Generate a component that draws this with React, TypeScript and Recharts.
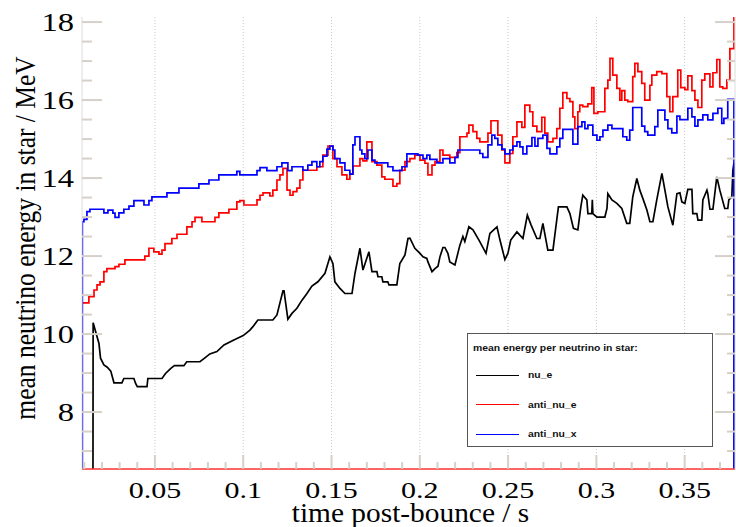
import React from "react"
import { LineChart, Line, XAxis, YAxis, CartesianGrid, Legend, Label } from "recharts"

// time post-bounce (s) / mean energy (MeV)
const nuETime = [
  0.0149, 0.015, 0.0183, 0.0192, 0.0211, 0.023, 0.025, 0.0268, 0.0313, 0.0324,
  0.0381, 0.039, 0.04, 0.0455, 0.046, 0.054, 0.056, 0.059, 0.061, 0.0664,
  0.068, 0.0755, 0.0783, 0.0811, 0.0851, 0.0891, 0.0947, 0.1, 0.1038, 0.1055,
  0.1083, 0.1168, 0.1191, 0.1225, 0.1231, 0.1253, 0.1276, 0.1304, 0.1333, 0.1361,
  0.1389, 0.1423, 0.1463, 0.1491, 0.1508, 0.1519, 0.1548, 0.1576, 0.1616, 0.1633,
  0.1661, 0.1678, 0.1712, 0.1729, 0.1757, 0.1763, 0.1785, 0.1791, 0.1819, 0.1825,
  0.187, 0.1887, 0.1916, 0.1933, 0.1944, 0.1972, 0.2001, 0.2018, 0.204, 0.2046,
  0.2069, 0.2086, 0.2103, 0.2114, 0.2131, 0.2142, 0.2159, 0.217, 0.2199, 0.2227,
  0.2244, 0.2255, 0.2278, 0.2301, 0.2335, 0.2375, 0.2397, 0.2437, 0.2454, 0.2482,
  0.2499, 0.2515, 0.255, 0.2584, 0.2609, 0.263, 0.2663, 0.268, 0.2697, 0.2725,
  0.2754, 0.276, 0.2785, 0.2833, 0.285, 0.287, 0.2895, 0.2912, 0.2923, 0.2946,
  0.2952, 0.2974, 0.2977, 0.298, 0.3003, 0.3048, 0.306, 0.3065, 0.3088, 0.3116,
  0.3144, 0.3172, 0.3189, 0.3206, 0.3229, 0.3246, 0.3263, 0.3286, 0.3303, 0.332,
  0.3342, 0.3371, 0.3405, 0.3433, 0.3456, 0.3473, 0.3484, 0.3501, 0.3518, 0.3541,
  0.3546, 0.3569, 0.3575, 0.3597, 0.3603, 0.3626, 0.3631, 0.3643, 0.366, 0.3682,
  0.3699, 0.3727, 0.3744, 0.375, 0.3767, 0.3773, 0.3779, 0.3782,
]
const nuEValue = [
  6, 10.29, 9.76, 9.38, 9.21, 9.15, 9.05, 8.75, 8.75, 8.86,
  8.86, 8.74, 8.65, 8.65, 8.86, 8.86, 8.99, 9.12, 9.19, 9.19,
  9.29, 9.29, 9.39, 9.49, 9.55, 9.72, 9.85, 9.96, 10.1, 10.19,
  10.36, 10.36, 10.49, 11.11, 11.11, 10.38, 10.53, 10.66, 10.87, 11.04,
  11.23, 11.34, 11.56, 11.98, 11.81, 11.34, 11.17, 11.04, 11.04, 11.56,
  12.2, 11.64, 12.11, 11.6, 11.6, 11.47, 11.47, 11.34, 11.34, 11.26,
  11.26, 11.81, 12.03, 12.45, 12.46, 12.2, 12.07, 11.98, 11.94, 11.85,
  11.6, 11.68, 11.74, 11.98, 12.22, 12.22, 12.07, 11.85, 11.77, 12.28,
  12.5, 12.37, 12.75, 12.67, 12.41, 12.07, 12.58, 12.75, 12.41, 11.91,
  12.07, 12.41, 12.62, 12.45, 13.05, 12.8, 12.45, 12.45, 12.84, 12.15,
  12.15, 12.37, 13.26, 13.26, 13.09, 12.71, 12.67, 13.26, 13.56, 13.44,
  13.09, 13.09, 13.44, 13.09, 13.0, 13.0, 13.22, 13.6, 13.44, 13.35,
  13.22, 12.84, 12.84, 13.52, 13.99, 13.69, 13.48, 13.18, 12.88, 12.88,
  13.44, 14.12, 13.26, 12.79, 13.6, 13.62, 13.39, 13.35, 13.71, 13.71,
  13.09, 13.09, 12.92, 12.92, 13.44, 13.69, 13.6, 13.2, 13.2, 14.03,
  13.69, 13.22, 13.22, 13.44, 13.52, 14.2, 14.38, 6,
]

const antiNuETime = [
  0.0087, 0.0126, 0.0155, 0.0172, 0.0189, 0.0211, 0.0228, 0.0274, 0.0296, 0.033,
  0.0443, 0.0466, 0.0494, 0.0523, 0.054, 0.0557, 0.0596, 0.0625, 0.0681, 0.071,
  0.0727, 0.0766, 0.084, 0.0862, 0.0919, 0.0964, 0.0981, 0.1004, 0.1078, 0.1095,
  0.1112, 0.1151, 0.1168, 0.1191, 0.1208, 0.1225, 0.1248, 0.1265, 0.1282, 0.1304,
  0.1321, 0.1338, 0.1417, 0.1451, 0.148, 0.1508, 0.1531, 0.1559, 0.1587, 0.1604,
  0.1621, 0.1661, 0.1678, 0.17, 0.1729, 0.1757, 0.1785, 0.1802, 0.1848, 0.187,
  0.1887, 0.1916, 0.1944, 0.1972, 0.2001, 0.2029, 0.2046, 0.2069, 0.2086, 0.2114,
  0.2131, 0.217, 0.221, 0.2227, 0.2267, 0.2278, 0.2301, 0.2323, 0.234, 0.2386,
  0.2403, 0.2442, 0.2465, 0.2482, 0.251, 0.2527, 0.255, 0.2578, 0.2595, 0.2623,
  0.264, 0.2663, 0.2691, 0.2708, 0.2725, 0.2754, 0.2776, 0.2793, 0.281, 0.2833,
  0.285, 0.2867, 0.2878, 0.2895, 0.2906, 0.2923, 0.2952, 0.2974, 0.2986, 0.3008,
  0.3048, 0.3065, 0.3077, 0.3093, 0.3116, 0.3133, 0.3144, 0.3161, 0.3178, 0.3206,
  0.3218, 0.3235, 0.3257, 0.3274, 0.3303, 0.3314, 0.3342, 0.3371, 0.3399, 0.3416,
  0.3433, 0.3461, 0.3478, 0.3501, 0.3518, 0.3541, 0.3558, 0.3575, 0.3597, 0.3614,
  0.3643, 0.366, 0.3682, 0.3699, 0.3716, 0.3739, 0.3756, 0.3779, 0.3785,
]
const antiNuEValue = [
  10.8, 10.96, 11.13, 11.26, 11.34, 11.6, 11.68, 11.73, 11.79, 11.9,
  12.0, 12.2, 12.11, 12.05, 12.15, 12.32, 12.45, 12.56, 12.75, 12.88,
  12.99, 12.88, 12.99, 13.11, 13.2, 13.39, 13.42, 13.31, 13.44, 13.56,
  13.62, 13.54, 13.69, 13.95, 14.08, 14.25, 13.69, 13.56, 13.65, 13.74,
  13.95, 14.2, 14.29, 14.59, 14.82, 14.5, 14.29, 14.08, 13.97, 14.1,
  14.31, 14.5, 14.44, 14.93, 14.42, 14.33, 14.03, 13.97, 13.79, 13.86,
  14.2, 14.42, 14.5, 14.59, 14.46, 14.38, 14.08, 14.33, 14.42, 14.72,
  14.59, 14.53, 14.65, 15.06, 15.15, 15.36, 15.19, 15.02, 14.93, 15.15,
  15.47, 15.1, 14.72, 14.39, 14.63, 15.06, 15.44, 15.3, 15.87, 15.7,
  15.33, 15.19, 15.56, 15.15, 14.93, 15.02, 15.27, 15.79, 16.19, 16.04,
  15.96, 15.57, 15.27, 15.7, 15.87, 15.83, 15.9, 16.32, 15.66, 15.7,
  16.3, 16.51, 17.07, 16.64, 16.3, 16.0, 16.24, 16.0, 15.96, 16.6,
  16.94, 16.73, 16.43, 16.0, 16.38, 16.64, 16.73, 16.68, 16.09, 15.7,
  16.09, 16.77, 16.32, 16.27, 16.62, 16.24, 16.0, 15.81, 16.51, 16.67,
  16.34, 16.7, 17.04, 16.34, 16.3, 16.51, 17.32, 19, 19,
]

const antiNuXTime = [
  0.0087, 0.0089, 0.0098, 0.0115, 0.0132, 0.0211, 0.0234, 0.0262, 0.0274, 0.0296,
  0.0324, 0.0353, 0.0381, 0.0438, 0.0466, 0.0483, 0.0568, 0.0636, 0.0749, 0.0806,
  0.0862, 0.0964, 0.0981, 0.1078, 0.1095, 0.1134, 0.1191, 0.1219, 0.1253, 0.1276,
  0.1338, 0.1366, 0.1389, 0.1417, 0.1434, 0.1451, 0.1474, 0.1491, 0.1508, 0.1519,
  0.1548, 0.1576, 0.1604, 0.1621, 0.1633, 0.1661, 0.1672, 0.1689, 0.1706, 0.1729,
  0.1746, 0.1819, 0.1848, 0.1899, 0.1927, 0.1989, 0.2018, 0.204, 0.2057, 0.2097,
  0.2131, 0.217, 0.2199, 0.2216, 0.234, 0.2357, 0.2386, 0.2408, 0.2425, 0.2442,
  0.2465, 0.2482, 0.251, 0.2527, 0.255, 0.2567, 0.2584, 0.2606, 0.2635, 0.2652,
  0.2669, 0.2697, 0.272, 0.2737, 0.2776, 0.2793, 0.281, 0.2867, 0.2895, 0.2918,
  0.2935, 0.2952, 0.298, 0.3003, 0.302, 0.3037, 0.3065, 0.3088, 0.315, 0.3172,
  0.3189, 0.3206, 0.3257, 0.3274, 0.3291, 0.3331, 0.3348, 0.3388, 0.3405, 0.3427,
  0.3456, 0.3473, 0.3518, 0.3541, 0.3558, 0.3575, 0.3603, 0.3631, 0.366, 0.3688,
  0.371, 0.3722, 0.3744, 0.3779, 0.3785,
]
const antiNuXValue = [
  6, 12.88, 12.94, 13.14, 13.2, 13.11, 13.18, 13.1, 12.99, 13.11,
  13.2, 13.28, 13.42, 13.31, 13.42, 13.52, 13.62, 13.74, 13.85, 13.95,
  14.08, 14.17, 14.08, 14.19, 14.27, 14.19, 14.29, 14.39, 14.19, 14.29,
  14.2, 14.33, 14.42, 14.29, 14.42, 14.56, 14.74, 14.82, 14.72, 14.5,
  14.39, 14.2, 14.1, 14.85, 15.06, 14.72, 14.62, 14.5, 14.72, 14.46,
  14.39, 14.29, 14.19, 14.29, 14.62, 14.59, 14.5, 14.59, 14.48, 14.39,
  14.5, 14.39, 14.53, 14.72, 14.63, 14.53, 14.85, 15.1, 15.02, 14.85,
  14.74, 14.62, 14.72, 14.82, 14.93, 14.8, 14.62, 14.82, 15.04, 14.82,
  15.02, 15.1, 14.76, 14.62, 14.8, 15.02, 15.25, 14.87, 15.32, 15.44,
  15.27, 15.36, 15.1, 14.97, 15.06, 15.23, 15.36, 15.27, 15.06, 14.97,
  15.23, 15.81, 15.33, 15.19, 15.1, 15.32, 15.74, 15.49, 15.27, 15.16,
  15.59, 15.5, 15.79, 15.57, 15.33, 15.49, 15.62, 15.49, 15.66, 15.79,
  15.4, 15.53, 16.02, 6, 6,
]

const seriesNames = ["nu_e", "anti_nu_e", "anti_nu_x"]
const seriesColors = ["#000000", "#ff0000", "#0000ff"]

const xTicks = [
  0.01, 0.02, 0.03, 0.04, 0.05, 0.06, 0.07, 0.08, 0.09, 0.1,
  0.11, 0.12, 0.13, 0.14, 0.15, 0.16, 0.17, 0.18, 0.19, 0.2,
  0.21, 0.22, 0.23, 0.24, 0.25, 0.26, 0.27, 0.28, 0.29, 0.3,
  0.31, 0.32, 0.33, 0.34, 0.35, 0.36, 0.37,
]
const xMajor = [0.05, 0.1, 0.15, 0.2, 0.25, 0.3, 0.35]
const yTicks = [
  7, 7.5, 8, 8.5, 9, 9.5, 10, 10.5, 11, 11.5, 12, 12.5,
  13, 13.5, 14, 14.5, 15, 15.5, 16, 16.5, 17, 17.5, 18,
]
const yMajor = [8, 10, 12, 14, 16, 18]

const legendTitle = "mean energy per neutrino in star:"

const serif = "'Liberation Serif', 'Times New Roman', serif"
const tickColor = "#d6d0c9"

const toRows = (ts: number[], vs: number[]) => ts.map((t, i) => ({ t, v: vs[i] }))
const isMajor = (list: number[], v: number) => list.some((m) => Math.abs(m - v) < 1e-6)

function XTick({ x, y, payload }: any) {
  const major = isMajor(xMajor, payload.value)
  return (
    <g>
      <line x1={x} x2={x} y1={y} y2={y - (major ? 14 : 7)} stroke={tickColor} strokeWidth={2} />
      {major && (
        <text
          transform={`translate(${x},${y + 29}) scale(1.25,1)`}
          textAnchor="middle"
          fontFamily={serif}
          fontSize={24}
          fill="#000"
        >
          {String(payload.value)}
        </text>
      )}
    </g>
  )
}

function YTick({ x, y, payload }: any) {
  const major = isMajor(yMajor, payload.value)
  return (
    <g>
      <line x1={x} x2={x + (major ? 20 : 10)} y1={y} y2={y} stroke={tickColor} strokeWidth={2} />
      {major && (
        <text
          transform={`translate(${x - 8},${y + 9}) scale(1.25,1)`}
          textAnchor="end"
          fontFamily={serif}
          fontSize={26}
          fill="#000"
        >
          {String(payload.value)}
        </text>
      )}
    </g>
  )
}

function RightTick({ x, y, payload }: any) {
  const major = isMajor(yMajor, payload.value)
  return <line x1={x} x2={x - (major ? 20 : 8)} y1={y} y2={y} stroke={tickColor} strokeWidth={2} />
}

function LegendBox() {
  return (
    <div
      style={{
        width: 246,
        height: 114,
        boxSizing: "border-box",
        border: "1px solid #555",
        background: "#fff",
        position: "relative",
        fontFamily: "'Liberation Sans', Arial, sans-serif",
        fontWeight: "bold",
        fontSize: 8.5,
        color: "#111",
      }}
    >
      <div style={{ position: "absolute", left: 5, top: 9, whiteSpace: "nowrap", transform: "scaleX(1.22)", transformOrigin: "left center" }}>
        {legendTitle}
      </div>
      {seriesNames.map((name, i) => (
        <div
          key={name}
          style={{ position: "absolute", left: 8, top: 35 + i * 29.5, height: 12, display: "flex", alignItems: "center" }}
        >
          <div style={{ width: 43, height: 0, borderTop: `1.5px solid ${seriesColors[i]}` }} />
          <span style={{ marginLeft: 9, whiteSpace: "nowrap", transform: "scaleX(1.22)", transformOrigin: "left center" }}>
            {name}
          </span>
        </div>
      ))}
    </div>
  )
}

export default function App() {
  const rows = [
    toRows(nuETime, nuEValue),
    toRows(antiNuETime, antiNuEValue),
    toRows(antiNuXTime, antiNuXValue),
  ]
  const curves = ["linear", "stepAfter", "stepAfter"] as const

  return (
    <div style={{ position: "absolute", left: 0, top: 0, background: "#fff" }}>
      <LineChart width={736} height={527} margin={{ top: 17, right: 0, bottom: 0, left: 0 }}>
        <CartesianGrid
          stroke="#c9c9c9"
          strokeDasharray="1 2"
          horizontalValues={yMajor}
          verticalValues={xMajor}
        />
        <XAxis
          type="number"
          dataKey="t"
          domain={[0.0087, 0.3785]}
          allowDataOverflow
          ticks={xTicks}
          interval={0}
          tickSize={0}
          tickMargin={0}
          tickLine={false}
          tick={<XTick />}
          height={58}
          axisLine={{ stroke: "#ff3030", strokeWidth: 1.5 }}
        >
          <Label
            content={(p: any) => {
              const vb = p.viewBox || { x: 82, y: 469, width: 653 }
              return (
                <text
                  transform={`translate(${vb.x + vb.width / 2 + 2},${vb.y + 53}) scale(1.05,1)`}
                  textAnchor="middle"
                  fontFamily={serif}
                  fontSize={28}
                  fill="#000"
                >
                  time post-bounce / s
                </text>
              )
            }}
          />
        </XAxis>
        <YAxis
          yAxisId="left"
          type="number"
          domain={[6.54, 18.13]}
          allowDataOverflow
          ticks={yTicks}
          interval={0}
          tickSize={0}
          tickMargin={0}
          tickLine={false}
          tick={<YTick />}
          width={82}
          axisLine={{ stroke: "#dcdcdc" }}
        >
          <Label
            content={() => (
              <text
                transform="translate(35,238) rotate(-90) scale(1,1.15)"
                textAnchor="middle"
                fontFamily={serif}
                fontSize={25.5}
                fill="#000"
              >
                mean neutrino energy in star / MeV
              </text>
            )}
          />
        </YAxis>
        <YAxis
          yAxisId="right"
          orientation="right"
          type="number"
          domain={[6.54, 18.13]}
          allowDataOverflow
          ticks={yTicks}
          interval={0}
          tickSize={0}
          tickMargin={0}
          tickLine={false}
          tick={<RightTick />}
          width={1}
          axisLine={{ stroke: "#dcdcdc" }}
        />
        <Legend
          layout="vertical"
          align="center"
          verticalAlign="middle"
          wrapperStyle={{ left: 467, top: 333, width: 246, height: 114 }}
          content={<LegendBox />}
        />
        {seriesNames.map((name, i) => (
          <Line
            key={name}
            yAxisId="left"
            data={rows[i]}
            dataKey="v"
            name={name}
            type={curves[i]}
            stroke={seriesColors[i]}
            strokeWidth={1.7}
            dot={false}
            activeDot={false}
            isAnimationActive={false}
          />
        ))}
      </LineChart>
    </div>
  )
}
